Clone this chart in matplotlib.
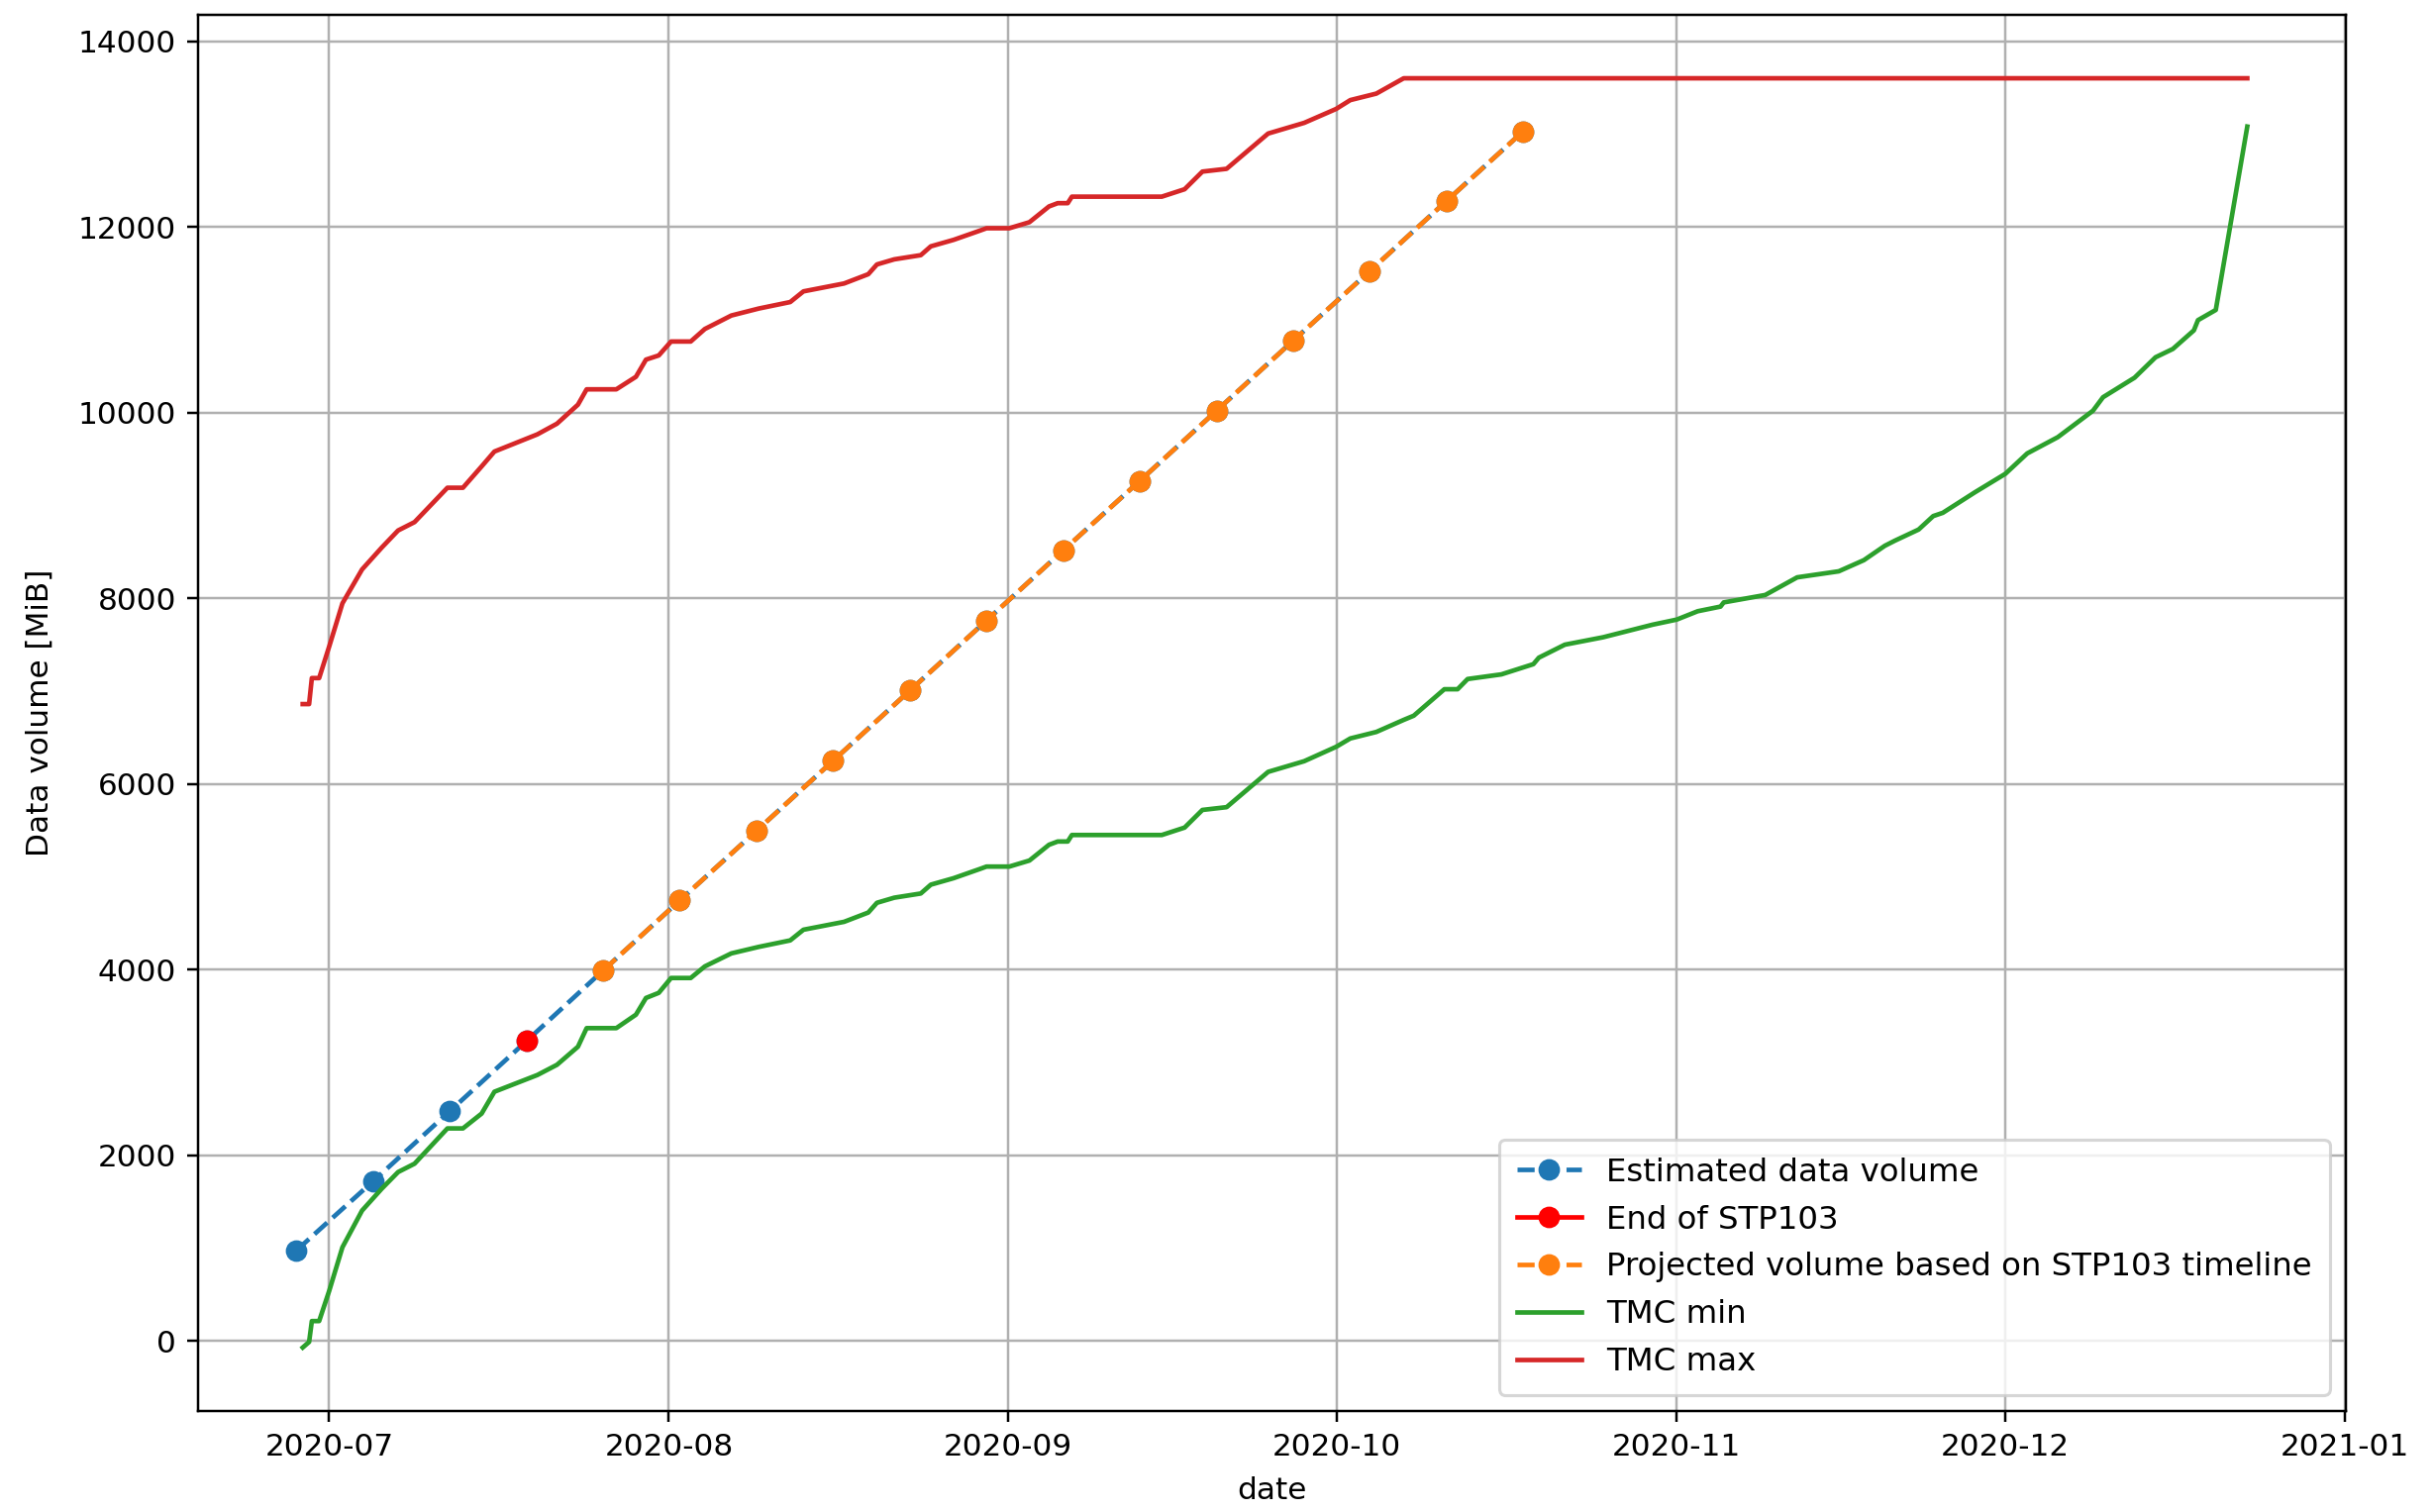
#!/usr/bin/env python

from matplotlib import pyplot as plt
import pandas as pd

# weekly estimate of the data volume [MiB]
est_dates = ["2020-06-28", "2020-07-05", "2020-07-12", "2020-07-19", "2020-07-26",
             "2020-08-02", "2020-08-09", "2020-08-16", "2020-08-23", "2020-08-30",
             "2020-09-06", "2020-09-13", "2020-09-20", "2020-09-27", "2020-10-04",
             "2020-10-11", "2020-10-18"]
est_values = [975, 1720, 2475, 3230, 3990, 4745, 5495, 6250, 7005, 7760,
              8515, 9265, 10020, 10775, 11525, 12280, 13030]

# end of STP103
stp_date = ["2020-07-19"]
stp_value = [3230]

# projection based on STP103 timeline
proj_dates = ["2020-07-26", "2020-08-02", "2020-08-09", "2020-08-16", "2020-08-23",
              "2020-08-30", "2020-09-06", "2020-09-13", "2020-09-20", "2020-09-27",
              "2020-10-04", "2020-10-11", "2020-10-18"]
proj_values = [3990, 4745, 5495, 6250, 7005, 7760, 8515, 9265, 10020, 10775,
               11525, 12280, 13030]

# TMC min
min_dates = ["2020-06-28 14:00", "2020-06-29 04:00", "2020-06-29 10:00", "2020-06-30 02:00",
             "2020-07-01 00:00", "2020-07-02 05:00", "2020-07-04 00:00", "2020-07-05 19:00",
             "2020-07-07 07:00", "2020-07-08 19:00", "2020-07-11 19:00", "2020-07-13 05:00",
             "2020-07-14 22:00", "2020-07-16 02:00", "2020-07-20 00:00", "2020-07-21 19:00",
             "2020-07-23 17:00", "2020-07-24 12:00", "2020-07-27 05:00", "2020-07-29 00:00",
             "2020-07-29 22:00", "2020-07-31 02:00", "2020-08-01 05:00", "2020-08-03 00:00",
             "2020-08-04 07:00", "2020-08-06 17:00", "2020-08-09 05:00", "2020-08-12 02:00",
             "2020-08-13 07:00", "2020-08-17 00:00", "2020-08-19 05:00", "2020-08-20 00:00",
             "2020-08-21 14:00", "2020-08-24 00:00", "2020-08-24 22:00", "2020-08-27 00:00",
             "2020-08-29 10:00", "2020-08-30 00:00", "2020-09-01 02:00", "2020-09-02 22:00",
             "2020-09-04 17:00", "2020-09-05 12:00", "2020-09-06 10:00", "2020-09-06 19:00",
             "2020-09-15 00:00", "2020-09-17 02:00", "2020-09-18 17:00", "2020-09-20 22:00",
             "2020-09-24 17:00", "2020-09-28 00:00", "2020-09-30 22:00", "2020-10-02 05:00",
             "2020-10-04 14:00", "2020-10-07 02:00", "2020-10-08 00:00", "2020-10-10 19:00",
             "2020-10-12 00:00", "2020-10-12 22:00", "2020-10-16 00:00", "2020-10-18 22:00",
             "2020-10-19 10:00", "2020-10-21 19:00", "2020-10-25 07:00", "2020-10-29 19:00",
             "2020-11-01 00:00", "2020-11-02 22:00", "2020-11-05 00:00", "2020-11-05 07:00",
             "2020-11-09 02:00", "2020-11-12 00:00", "2020-11-15 19:00", "2020-11-18 02:00",
             "2020-11-20 00:00", "2020-11-20 22:00", "2020-11-23 02:00", "2020-11-24 10:00",
             "2020-11-25 07:00", "2020-11-28 05:00", "2020-12-01 00:00", "2020-12-03 00:00",
             "2020-12-05 19:00", "2020-12-09 00:00", "2020-12-09 22:00", "2020-12-12 19:00",
             "2020-12-14 17:00", "2020-12-16 07:00", "2020-12-18 05:00", "2020-12-18 14:00",
             "2020-12-20 05:00", "2020-12-23 02:00"]
min_values = [-70, -10, 215, 215,
              540, 1010, 1405, 1640,
              1820, 1910, 2290, 2290,
              2450, 2685, 2865, 2975,
              3170, 3370, 3370, 3515,
              3695, 3750, 3910, 3910,
              4035, 4175, 4245, 4315,
              4430, 4515, 4615, 4720,
              4775, 4820, 4915, 4985,
              5085, 5110, 5110, 5175,
              5345, 5380, 5380, 5450,
              5450, 5530, 5720, 5750,
              6130, 6245, 6400, 6490,
              6560, 6690, 6735, 7020,
              7020, 7130, 7180, 7290,
              7360, 7500, 7580, 7715,
              7770, 7860, 7910, 7955,
              8035, 8225, 8290, 8410,
              8565, 8620, 8740, 8885,
              8920, 9140, 9340, 9560,
              9735, 10020, 10165, 10375,
              10595, 10685, 10885, 10995,
              11105, 13080]

# TMC max
max_dates = ["2020-06-28 14:00", "2020-06-29 04:00", "2020-06-29 10:00", "2020-06-30 02:00",
             "2020-07-01 00:00", "2020-07-02 05:00", "2020-07-04 00:00", "2020-07-05 19:00",
             "2020-07-07 07:00", "2020-07-08 19:00", "2020-07-11 19:00", "2020-07-13 05:00",
             "2020-07-14 22:00", "2020-07-16 02:00", "2020-07-20 00:00", "2020-07-21 19:00",
             "2020-07-23 17:00", "2020-07-24 12:00", "2020-07-27 05:00", "2020-07-29 00:00",
             "2020-07-29 22:00", "2020-07-31 02:00", "2020-08-01 05:00", "2020-08-03 00:00",
             "2020-08-04 07:00", "2020-08-06 17:00", "2020-08-09 05:00", "2020-08-12 02:00",
             "2020-08-13 07:00", "2020-08-17 00:00", "2020-08-19 05:00", "2020-08-20 00:00",
             "2020-08-21 14:00", "2020-08-24 00:00", "2020-08-24 22:00", "2020-08-27 00:00",
             "2020-08-29 10:00", "2020-08-30 00:00", "2020-09-01 02:00", "2020-09-02 22:00",
             "2020-09-04 17:00", "2020-09-05 12:00", "2020-09-06 10:00", "2020-09-06 19:00",
             "2020-09-15 00:00", "2020-09-17 02:00", "2020-09-18 17:00", "2020-09-20 22:00",
             "2020-09-24 17:00", "2020-09-28 00:00", "2020-09-30 22:00", "2020-10-02 05:00",
             "2020-10-04 14:00", "2020-10-07 02:00", "2020-12-23 02:00"]
max_values = [6860, 6860, 7140, 7140,
              7480, 7945, 8310, 8545,
              8730, 8820, 9190, 9190,
              9420, 9580, 9765, 9880,
              10085, 10250, 10250, 10385,
              10570, 10615, 10765, 10765,
              10900, 11045, 11120, 11190,
              11305, 11390, 11490, 11595,
              11650, 11695, 11790, 11860,
              11960, 11985, 11985, 12050,
              12220, 12255, 12255, 12325,
              12325, 12405, 12595, 12625,
              13005, 13120, 13270, 13365,
              13435, 13600, 13600]

dpi = 224
fig = plt.figure(figsize=(2459/dpi, 1527/dpi), dpi=dpi)
ax = fig.add_subplot(111)
fig.subplots_adjust(left=0.0812, right=0.9634, bottom=0.0668, top=0.9902)

ax.plot(pd.to_datetime(est_dates), est_values, '--o', color='C0', label="Estimated data volume")
ax.plot(pd.to_datetime(stp_date), stp_value, '-o', color='red', label="End of STP103")
ax.plot(pd.to_datetime(proj_dates), proj_values, '--o', color='C1',
        label="Projected volume based on STP103 timeline")
ax.plot(pd.to_datetime(min_dates), min_values, color='C2', label="TMC min")
ax.plot(pd.to_datetime(max_dates), max_values, color='C3', label="TMC max")

ax.set_xlim(pd.Timestamp("2020-06-19"), pd.Timestamp("2021-01-01 02:00"))
ax.grid(True)
ax.set_xlabel("date", labelpad=5)
ax.set_ylabel("Data volume [MiB]", labelpad=7.5)
ax.legend(loc='lower right', fontsize=10.4, labelspacing=0.52, borderpad=0.55)

fig.savefig("out.png", dpi=dpi)
